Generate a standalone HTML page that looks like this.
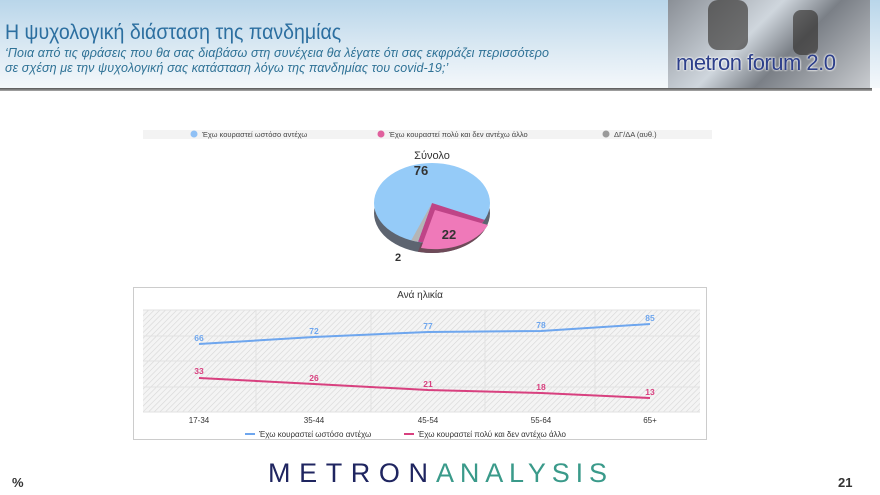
<!DOCTYPE html>
<html><head><meta charset="utf-8"><style>
body{margin:0;width:880px;height:495px;background:#fff;overflow:hidden;position:relative;font-family:"Liberation Sans","DejaVu Sans",sans-serif}
.hdr{position:absolute;left:0;top:0;width:880px;height:88px;background:linear-gradient(180deg,#b9d6ea 0%,#dbe9f3 55%,#f4f8fb 100%)}
.bar{position:absolute;left:0;top:88px;width:872px;height:3px;background:linear-gradient(180deg,#555,#aaa)}
</style></head><body>
<div class="hdr"></div><div class="bar"></div>
<div style="position:absolute;left:668px;top:0;width:202px;height:88px;background:linear-gradient(135deg,#8a8f96,#cfd6dd 40%,#7a7f86 60%,#c9ccd0);overflow:hidden">
<div style="position:absolute;left:40px;top:0;width:40px;height:50px;background:#2d2a26;opacity:.6;border-radius:10px"></div>
<div style="position:absolute;left:125px;top:10px;width:25px;height:45px;background:#2d2a26;opacity:.6;border-radius:8px"></div>
<div style="position:absolute;left:8px;top:50px;font-size:22px;color:#2d3f8a;text-shadow:0 0 2px #fff,0 0 2px #fff;letter-spacing:-0.5px">metron forum 2.0</div></div>
<div style="position:absolute;left:5px;top:21px;font-size:21px;color:#2c6fa0;transform:scaleX(0.93);transform-origin:left">Η ψυχολογική διάσταση της πανδημίας</div>
<div style="position:absolute;left:5px;top:46px;font-size:12.5px;color:#2f7296;font-style:italic;line-height:15px;letter-spacing:0.1px">‘Ποια από τις φράσεις που θα σας διαβάσω στη συνέχεια θα λέγατε ότι σας εκφράζει περισσότερο<br>σε σχέση με την ψυχολογική σας κατάσταση λόγω της πανδημίας του covid-19;’</div>

<svg width="880" height="495" style="position:absolute;left:0;top:0" font-family="Liberation Sans, DejaVu Sans, sans-serif">
<defs><pattern id="h" width="4" height="4" patternUnits="userSpaceOnUse" patternTransform="rotate(45)"><rect width="4" height="4" fill="#f4f4f4"/><line x1="0" y1="0" x2="0" y2="4" stroke="#d6d6d6" stroke-width="1.2"/></pattern></defs>
<rect x="143" y="130" width="569" height="9" fill="#f3f3f3"/>
<circle cx="194" cy="134" r="3.5" fill="#8fc0f5"/><text x="202" y="137" font-size="7.5" fill="#444">Έχω κουραστεί  ωστόσο αντέχω</text>
<circle cx="381" cy="134" r="3.5" fill="#e0609d"/><text x="389" y="137" font-size="7.5" fill="#444">Έχω κουραστεί πολύ και δεν αντέχω άλλο</text>
<circle cx="606" cy="134" r="3.5" fill="#9a9a9a"/><text x="614" y="137" font-size="7.5" fill="#444">ΔΓ/ΔΑ (αυθ.)</text>
<text x="432" y="159" font-size="11" fill="#333" text-anchor="middle">Σύνολο</text>
<ellipse cx="432" cy="213" rx="58" ry="40" fill="#5d6470"/>
<path d="M432 213 L484.6 229.9 A58 40 0 0 1 418 251.8 Z" fill="#6e4a58"/>
<ellipse cx="432" cy="203" rx="58" ry="40" fill="#95cbf8"/>
<path d="M432 203 L484.6 219.9 A58 40 0 0 1 418 241.8 Z" fill="#bf4487"/>
<path d="M435 210 L488 225 A58 40 0 0 1 421 248 Z" fill="#ef79b9"/>
<path d="M432 203 L418 241.8 A58 40 0 0 1 411.2 240.4 Z" fill="#b5b5b5"/>
<text x="421" y="175" font-size="13" font-weight="bold" fill="#333" text-anchor="middle">76</text>
<text x="449" y="239" font-size="13" font-weight="bold" fill="#333" text-anchor="middle">22</text>
<text x="398" y="261" font-size="11" font-weight="bold" fill="#333" text-anchor="middle">2</text>

<rect x="133.5" y="287.5" width="573" height="152" fill="#fff" stroke="#ccc"/>
<text x="420" y="298" font-size="10" fill="#333" text-anchor="middle">Ανά ηλικία</text>
<rect x="143" y="310" width="557" height="102" fill="url(#h)"/>
<g stroke="#e2e2e2" stroke-width="1"><line x1="143" y1="310" x2="700" y2="310"/><line x1="143" y1="336" x2="700" y2="336"/><line x1="143" y1="361" x2="700" y2="361"/><line x1="143" y1="387" x2="700" y2="387"/><line x1="143" y1="412" x2="700" y2="412"/>
<line x1="256" y1="310" x2="256" y2="412"/><line x1="371" y1="310" x2="371" y2="412"/><line x1="485" y1="310" x2="485" y2="412"/><line x1="595" y1="310" x2="595" y2="412"/></g>
<polyline points="199,344 314,337 428,332 541,331 650,324" fill="none" stroke="#6ea6ee" stroke-width="2"/>
<polyline points="199,378 314,384 428,390 541,393 650,398" fill="none" stroke="#d8407f" stroke-width="2"/>
<g font-size="8.5" font-weight="bold" text-anchor="middle" fill="#6ea6ee"><text x="199" y="341">66</text><text x="314" y="334">72</text><text x="428" y="329">77</text><text x="541" y="328">78</text><text x="650" y="321">85</text></g>
<g font-size="8.5" font-weight="bold" text-anchor="middle" fill="#d8407f"><text x="199" y="374">33</text><text x="314" y="381">26</text><text x="428" y="387">21</text><text x="541" y="390">18</text><text x="650" y="395">13</text></g>
<g font-size="8" text-anchor="middle" fill="#333"><text x="199" y="423">17-34</text><text x="314" y="423">35-44</text><text x="428" y="423">45-54</text><text x="541" y="423">55-64</text><text x="650" y="423">65+</text></g>
<line x1="245" y1="434" x2="255" y2="434" stroke="#6ea6ee" stroke-width="2"/><text x="259" y="437" font-size="8" fill="#333">Έχω κουραστεί  ωστόσο αντέχω</text>
<line x1="404" y1="434" x2="414" y2="434" stroke="#d8407f" stroke-width="2"/><text x="418" y="437" font-size="8" fill="#333">Έχω κουραστεί πολύ και δεν αντέχω άλλο</text>

<text x="268" y="482" font-size="27" textLength="160" lengthAdjust="spacing" fill="#1f2560">METRON</text>
<text x="436" y="482" font-size="27" textLength="171" lengthAdjust="spacing" fill="#3a9a8a">ANALYSIS</text>
<text x="12" y="487" font-size="13" font-weight="bold" fill="#333">%</text>
<text x="838" y="487" font-size="13" font-weight="bold" fill="#333">21</text>
</svg>
</body></html>
